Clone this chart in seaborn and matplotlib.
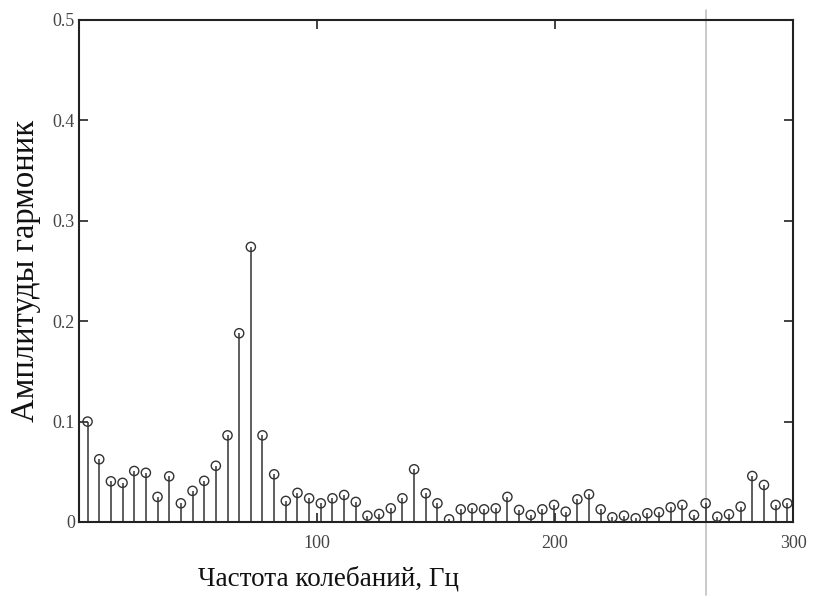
import numpy as np
import pandas as pd
import matplotlib
matplotlib.use("Agg")
import matplotlib.pyplot as plt
import seaborn as sns

# Harmonic frequencies (Hz) and amplitudes
freq_start = 3.6
freq_step = 4.9
amplitudes = [
    0.100, 0.0625, 0.0405, 0.039, 0.0508, 0.049, 0.025, 0.0455, 0.0186, 0.031,
    0.041, 0.056, 0.0863, 0.188, 0.274, 0.0863, 0.0475, 0.021, 0.029, 0.0236,
    0.0186, 0.0236, 0.0269, 0.020, 0.0063, 0.008, 0.0136, 0.0236, 0.0525, 0.0286,
    0.0186, 0.0027, 0.0126, 0.0136, 0.0126, 0.0136, 0.025, 0.012, 0.007, 0.0126,
    0.017, 0.0103, 0.0226, 0.0276, 0.0126, 0.0047, 0.0063, 0.0037, 0.0087, 0.0097,
    0.0146, 0.017, 0.007, 0.0186, 0.0053, 0.0077, 0.0153, 0.0458, 0.0369, 0.017,
    0.0186,
]
frequencies = [freq_start + freq_step * i for i in range(len(amplitudes))]
marker_freq = 263.3

x_ticks = [100, 200, 300]
y_ticks = [0, 0.1, 0.2, 0.3, 0.4, 0.5]
y_ticklabels = ["0", "0.1", "0.2", "0.3", "0.4", "0.5"]
x_label = "Частота колебаний, Гц"
y_label = "Амплитуды гармоник"

df = pd.DataFrame({"f": frequencies, "a": amplitudes})

sns.set_style("white")
plt.rcParams["font.family"] = ["Liberation Serif", "DejaVu Serif"]

fig = plt.figure(figsize=(8.14, 6.02), dpi=100)
ax = fig.add_axes([79 / 814, 80 / 602, 714 / 814, 502 / 602])

stem_color = "#333333"
ax.vlines(df["f"], 0, df["a"], color=stem_color, linewidth=1.1, zorder=2)
sns.scatterplot(data=df, x="f", y="a", ax=ax, marker="o", s=44,
                facecolor="none", edgecolor=stem_color, linewidth=1.0, zorder=3)

ax.axvline(marker_freq, ymin=-0.145, ymax=1.02, color="#c0c0c0",
           linewidth=1.2, clip_on=False, zorder=1)

ax.set_xlim(0, 300)
ax.set_ylim(0, 0.5)
ax.set_xticks(x_ticks)
ax.set_xticklabels([str(t) for t in x_ticks])
ax.set_yticks(y_ticks)
ax.set_yticklabels(y_ticklabels)
ax.tick_params(axis="both", which="both", direction="in", length=6.5, width=1.2,
               top=True, right=True, bottom=True, left=True,
               labelsize=13, color="#222222", labelcolor="#444444", pad=3)
ax.tick_params(axis="x", pad=9)

for sp in ax.spines.values():
    sp.set_visible(True)
    sp.set_color("#222222")
    sp.set_linewidth(1.5)

ax.set_xlabel(x_label, fontsize=19.5, color="#111111")
ax.xaxis.label.set_va("center")
ax.xaxis.set_label_coords((328 - 79) / 714, (522 - 579) / 502)
ax.set_ylabel(y_label, fontsize=23.5, color="#111111")
ax.yaxis.label.set_va("center")
ax.yaxis.set_label_coords((26 - 79) / 714, 0.5)

fig.savefig("out.png", dpi=100, facecolor="white")
